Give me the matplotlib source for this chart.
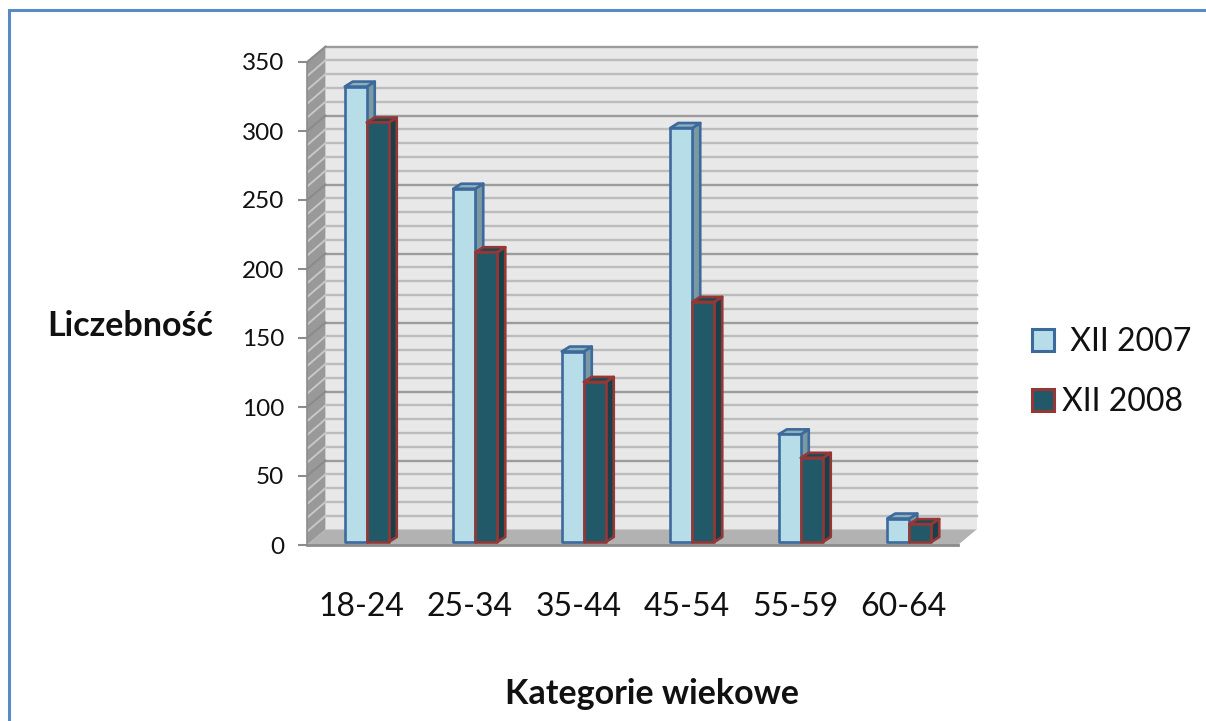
import matplotlib
matplotlib.use("Agg")
import matplotlib.pyplot as plt
from matplotlib.lines import Line2D
from matplotlib.patches import Patch, Polygon

categories = ["18-24", "25-34", "35-44", "45-54", "55-59", "60-64"]
xii_2007 = [330, 256, 138, 300, 78, 17]
xii_2008 = [304, 210, 116, 174, 61, 13]
y_ticks = [0, 50, 100, 150, 200, 250, 300, 350]
minor_values = list(range(0, 351, 10))

W, H = 1206, 721
plt.rcParams["font.family"] = ["Lato", "DejaVu Sans"]
fig = plt.figure(figsize=(W / 100, H / 100), dpi=100, facecolor="white")
L, R, T, B = 307, 958, 62, 545
ax = fig.add_axes([L / W, 1 - B / H, (R - L) / W, (B - T) / H])
ax.set_xlim(0, 6)
ax.set_ylim(0, 350)
ax.patch.set_visible(False)

PX = 6 / (R - L)
PY = 350 / (B - T)
DX, DY = 18.5 * PX, 15.5 * PY
BW = 22 * PX
BDX, BDY = 8 * PX, 5 * PY
OFFX, OFFY = 5.5 * PX, 3 * PY


def poly(pts, fc, ec="none", lw=0, z=1):
    ax.add_patch(Polygon(pts, closed=True, facecolor=fc, edgecolor=ec, linewidth=lw,
                         joinstyle="round", clip_on=False, zorder=z))


# walls and floor
poly([(DX, DY), (6 + DX, DY), (6 + DX, 350 + DY), (DX, 350 + DY)], "#e8e8e8")
poly([(0, 0), (DX, DY), (DX, 350 + DY), (0, 350)], "#999999")
poly([(0, 0), (6, 0), (6 + DX, DY), (DX, DY)], "#b2b2b2")

for v in minor_values:
    major = v % 50 == 0
    if v > 0:
        ax.plot([DX, 6 + DX], [v + DY, v + DY], color="#9c9c9c" if major else "#bcbcbc",
                lw=1.7, clip_on=False, zorder=1.5)
    if not major:
        ax.plot([0.005, DX], [v, v + DY], color="#c8c8c8", lw=1.4, clip_on=False, zorder=1.5)
    elif v > 0:
        ax.plot([0, DX], [v, v + DY], color="#8a8a8a", lw=1.4, clip_on=False, zorder=1.5)


def bar3d(x0, v, fc, ec, top, side, z):
    x1 = x0 + BW
    y0, y1 = OFFY, v + OFFY
    poly([(x1, y0), (x1 + BDX, y0 + BDY), (x1 + BDX, y1 + BDY), (x1, y1)], side, ec, 1.9, z)
    poly([(x0, y1), (x1, y1), (x1 + BDX, y1 + BDY), (x0 + BDX, y1 + BDY)], top, ec, 1.9, z)
    poly([(x0, y0), (x1, y0), (x1, y1), (x0, y1)], fc, ec, 1.9, z + 0.1)


for i, (a, b) in enumerate(zip(xii_2007, xii_2008)):
    c = i + 0.5 + OFFX
    bar3d(c - BW, a, "#b7dde8", "#3d6a9c", "#8db0ba", "#7a99a2", 3 + i)
    bar3d(c, b, "#215968", "#953735", "#1b4a57", "#17404b", 3.3 + i)

ax.set_xticks([i + 0.5 for i in range(6)], categories)
ax.set_yticks(y_ticks)
ax.tick_params(axis="x", length=0, labelsize=23, pad=34, colors="#111111")
ax.tick_params(axis="y", length=6.5, width=1.5, color="#8c8c8c", labelsize=17.5, pad=10,
               labelcolor="#111111")
for s in ("top", "right"):
    ax.spines[s].set_visible(False)
ax.spines["bottom"].set_color("#8c8c8c")
ax.spines["bottom"].set_linewidth(2)
ax.spines["left"].set_color("#8c8c8c")
ax.spines["left"].set_linewidth(1.2)
ax.spines["bottom"].set_zorder(2)

ax.set_xlabel("Kategorie wiekowe", fontsize=24.5, fontweight="bold", color="#111111")
ax.xaxis.set_label_coords((652 - L) / (R - L), -(694 - B) / (B - T), transform=ax.transAxes)
ax.xaxis.label.set_va("center")
ax.set_ylabel("Liczebność", fontsize=24.5, fontweight="bold", rotation=0, color="#111111",
              ha="center", va="center")
ax.yaxis.set_label_coords((130 - L) / (R - L), (B - 326) / (B - T), transform=ax.transAxes)

handles = [Patch(facecolor="#b7dde8", edgecolor="#3d6a9c", linewidth=2.2),
           Patch(facecolor="#215968", edgecolor="#953735", linewidth=2.2)]
fig.legend(handles, [" XII 2007", "XII 2008"], loc="upper left",
           bbox_to_anchor=(1026 / W, 1 - 321 / H), frameon=False, fontsize=23,
           handlelength=0.68, handleheight=0.68, handletextpad=0.24,
           labelspacing=0.93, borderpad=0.2, borderaxespad=0, labelcolor="#111111")

# slide frame
fig.add_artist(Line2D([8.5 / W, 8.5 / W, 1], [0, 1 - 9.5 / H, 1 - 9.5 / H],
                      transform=fig.transFigure, color="#5a8ac6", lw=2.2,
                      solid_joinstyle="miter"))

fig.savefig("out.png", dpi=100, facecolor="white")
